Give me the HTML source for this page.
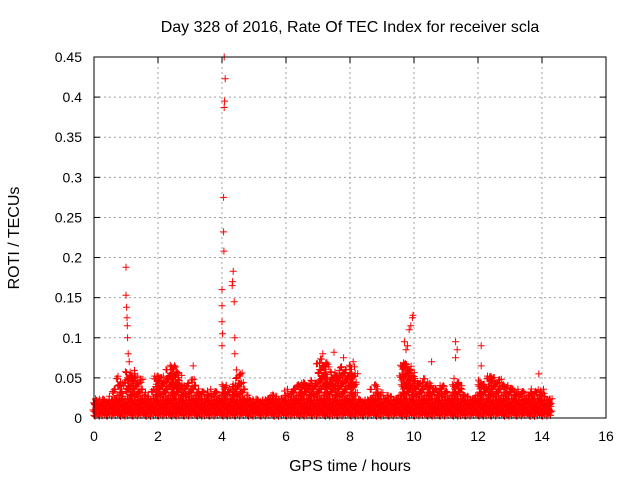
<!DOCTYPE html>
<html><head><meta charset="utf-8"><style>
body{margin:0;background:#fff}
svg{display:block;font-family:"Liberation Sans",sans-serif;font-size:14px}
.t{font-size:16px}
</style></head><body>
<svg id="chart" width="640" height="480">
<text class="t" x="350" y="32" text-anchor="middle">Day 328 of 2016, Rate Of TEC Index for receiver scla</text>
<text class="t" x="350" y="471" text-anchor="middle">GPS time / hours</text>
<text class="t" transform="translate(19,238) rotate(-90)" text-anchor="middle">ROTI / TECUs</text>
<g id="grid"></g><g id="ticks"></g>
<path id="pts" fill="none" stroke="#f00" stroke-width="1"/>
<rect x="94" y="57" width="512" height="361" fill="none" stroke="#000"/>
</svg>
<script>
const xTicks=[0,2,4,6,8,10,12,14,16];
const yTicks=[0,0.05,0.1,0.15,0.2,0.25,0.3,0.35,0.4,0.45];
const yTickLabels=["0","0.05","0.1","0.15","0.2","0.25","0.3","0.35","0.4","0.45"];
// band envelope every 0.1 h from 0 to 14.2
const bandHi=[0.025,0.025,0.025,0.025,0.025,0.028,0.035,0.05,0.045,0.03,0.06,0.055,0.06,0.055,0.05,0.035,0.03,0.03,0.035,0.055,0.055,0.055,0.05,0.06,0.065,0.065,0.06,0.045,0.04,0.04,0.05,0.045,0.035,0.035,0.035,0.03,0.035,0.035,0.035,0.035,0.04,0.04,0.035,0.045,0.045,0.06,0.045,0.03,0.025,0.025,0.025,0.025,0.025,0.025,0.025,0.03,0.03,0.03,0.03,0.03,0.035,0.035,0.04,0.045,0.045,0.045,0.045,0.045,0.05,0.045,0.07,0.075,0.07,0.05,0.06,0.055,0.06,0.065,0.06,0.06,0.065,0.06,0.025,0.025,0.025,0.025,0.03,0.04,0.04,0.035,0.03,0.03,0.03,0.03,0.025,0.03,0.07,0.065,0.07,0.06,0.05,0.05,0.045,0.05,0.045,0.04,0.04,0.035,0.04,0.04,0.035,0.035,0.04,0.05,0.045,0.03,0.03,0.03,0.03,0.03,0.05,0.045,0.04,0.055,0.055,0.05,0.05,0.045,0.04,0.04,0.04,0.04,0.035,0.035,0.035,0.03,0.035,0.035,0.035,0.035,0.035,0.03,0.025];
const bandLo=0.004;
const denseTop=0.024;
const spikeT=[1.0,1.0,1.02,1.03,1.04,1.05,1.07,1.1,4.07,4.1,4.08,4.07,4.05,4.05,4.06,4.0,4.0,4.0,4.02,4.0,4.35,4.33,4.32,4.38,4.4,4.4,4.45,9.97,9.95,9.9,9.85,9.8,9.75,9.7,11.3,11.35,11.3,12.1,12.1,3.1,13.9,7.15,7.5,7.8,8.1,10.55,0.75];
const spikeV=[0.188,0.153,0.138,0.125,0.115,0.10,0.08,0.07,0.45,0.423,0.395,0.387,0.275,0.232,0.208,0.16,0.14,0.12,0.105,0.09,0.183,0.17,0.165,0.145,0.10,0.08,0.06,0.128,0.125,0.115,0.11,0.09,0.085,0.095,0.095,0.085,0.075,0.09,0.065,0.065,0.055,0.08,0.082,0.075,0.07,0.07,0.052];
const X=t=>94+t*32, Y=v=>418-v*361/0.45;
const NS='http://www.w3.org/2000/svg';
const grid=document.getElementById('grid'),ticks=document.getElementById('ticks');
function mk(tag,at,par){const e=document.createElementNS(NS,tag);for(const k in at)e.setAttribute(k,at[k]);par.appendChild(e);return e;}
xTicks.forEach(t=>{const x=X(t);
 if(t>0&&t<16){const g=mk('line',{x1:x,x2:x,y1:57,y2:418,stroke:'#a0a0a0','stroke-dasharray':'2,3'},grid);
 
 }
 mk('line',{x1:x,x2:x,y1:418,y2:412,stroke:'#000'},ticks);mk('line',{x1:x,x2:x,y1:57,y2:63,stroke:'#000'},ticks);
 const l=mk('text',{x:x,y:441,'text-anchor':'middle'},ticks);l.textContent=t;
 
 });
yTicks.forEach((v,i)=>{const y=Y(v);
 if(i>0&&i<yTicks.length-1){const g=mk('line',{x1:94,x2:606,y1:y,y2:y,stroke:'#a0a0a0','stroke-dasharray':'2,3'},grid);
 
 }
 mk('line',{x1:94,x2:100,y1:y,y2:y,stroke:'#000'},ticks);mk('line',{x1:606,x2:600,y1:y,y2:y,stroke:'#000'},ticks);
 const l=mk('text',{x:82,y:y+5,'text-anchor':'end'},ticks);l.textContent=yTickLabels[i];
 
 });
let d='';
const plus=(x,y)=>{d+=`M${(x-3.5).toFixed(1)} ${y.toFixed(1)}h7M${x.toFixed(1)} ${(y-3.5).toFixed(1)}v7`;};
const jit=[0,1.3,-1.1,0.6,-0.4,1.6,-1.5,0.9];
bandHi.forEach((hi,i)=>{const t=i*0.1;
 for(let k=0;k<3;k++){const tx=t+k*0.033;
  let j=i+k;
  const top=Math.min(hi,denseTop+jit[(i+k)%8]*0.002);
  for(let v=bandLo+(k%2)*0.002;v<=top;v+=0.004){plus(X(tx)+jit[j%8],Y(v)+jit[(j+3)%8]);j++;}
  if(hi>top){for(let v=top+0.004+k*0.0015;v<=hi;v+=0.006){plus(X(tx)+jit[j%8]*1.5,Y(v)+jit[(j+2)%8]);j++;}}}});
spikeT.forEach((t,i)=>plus(X(t),Y(spikeV[i])));
document.getElementById('pts').setAttribute('d',d);
</script>
</body></html>
